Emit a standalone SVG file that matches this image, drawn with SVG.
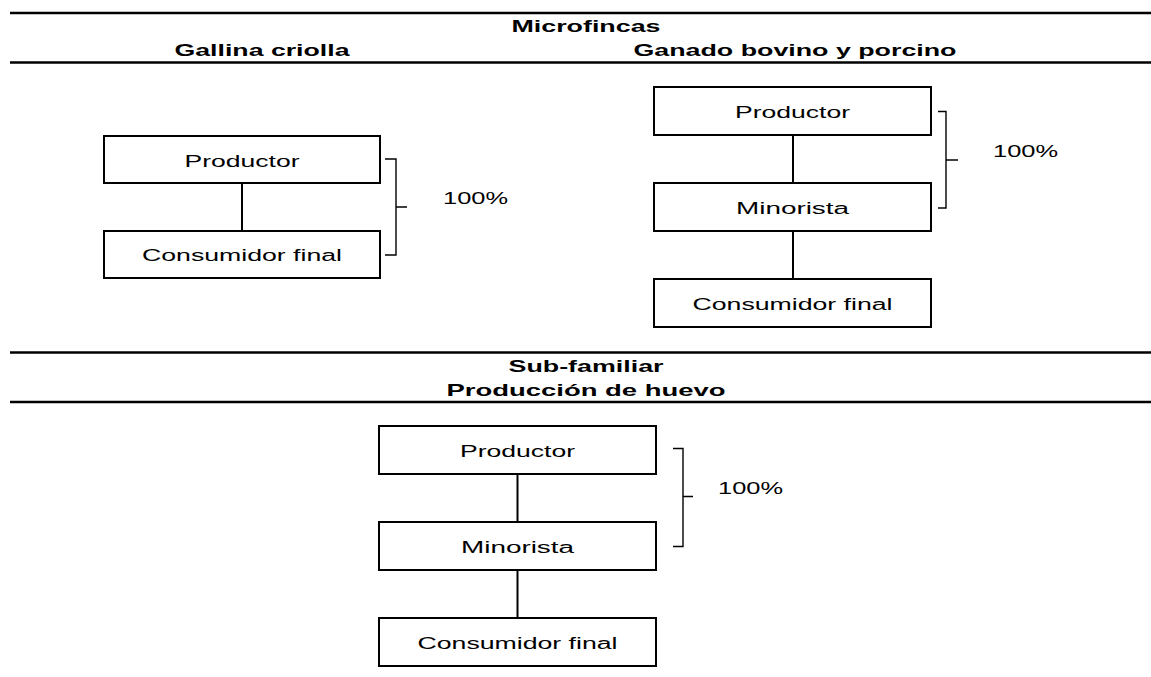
<svg xmlns="http://www.w3.org/2000/svg" width="1151" height="677" viewBox="0 0 1151 677">
<style>
.rule{stroke:#000;stroke-width:2.5;fill:none}
.box{fill:#fff;stroke:#000;stroke-width:2}
.conn{stroke:#000;stroke-width:2;fill:none}
.brace{stroke:#000;stroke-width:1.4;fill:none}
.hd{font-family:"Liberation Sans",Arial,sans-serif;font-weight:bold;font-size:17px;fill:#000;text-anchor:middle}
.lbl{font-family:"Liberation Sans",Arial,sans-serif;font-size:16px;fill:#000;text-anchor:middle}
.pct{font-family:"Liberation Sans",Arial,sans-serif;font-size:16px;fill:#000}
</style>
<rect width="1151" height="677" fill="#fff"/>
<g id="headers">
<line class="rule" x1="10" y1="13" x2="1151" y2="13"/>
<line class="rule" x1="10" y1="62.5" x2="1151" y2="62.5"/>
<text class="hd" x="586" y="32" textLength="149" lengthAdjust="spacingAndGlyphs">Microfincas</text>
<text class="hd" x="262" y="56" textLength="175" lengthAdjust="spacingAndGlyphs">Gallina criolla</text>
<text class="hd" x="795" y="56" textLength="323" lengthAdjust="spacingAndGlyphs">Ganado bovino y porcino</text>
<line class="rule" x1="10" y1="352.5" x2="1151" y2="352.5"/>
<line class="rule" x1="10" y1="402" x2="1151" y2="402"/>
<text class="hd" x="586" y="372" textLength="155" lengthAdjust="spacingAndGlyphs">Sub-familiar</text>
<text class="hd" x="586" y="396" textLength="279" lengthAdjust="spacingAndGlyphs">Producción de huevo</text>
</g>
<g id="connectors">
<line class="conn" x1="242" y1="183" x2="242" y2="231"/>
<line class="conn" x1="793" y1="135" x2="793" y2="183"/>
<line class="conn" x1="793" y1="231" x2="793" y2="279"/>
<line class="conn" x1="517.5" y1="474" x2="517.5" y2="522"/>
<line class="conn" x1="517.5" y1="570" x2="517.5" y2="618"/>
</g>
<g id="gallina-productor"><rect class="box" x="104" y="136" width="276" height="47"/><text class="lbl" x="242" y="166.5" textLength="115" lengthAdjust="spacingAndGlyphs">Productor</text></g>
<g id="gallina-consumidor"><rect class="box" x="104" y="231" width="276" height="47"/><text class="lbl" x="242" y="261" textLength="200" lengthAdjust="spacingAndGlyphs">Consumidor final</text></g>
<g id="gallina-brace"><path class="brace" d="M385,159 H396 V255 H385 M396,207 H407"/><text class="pct" x="443" y="204" textLength="65" lengthAdjust="spacingAndGlyphs">100%</text></g>
<g id="ganado-productor"><rect class="box" x="654" y="87" width="277" height="48"/><text class="lbl" x="792.5" y="118" textLength="115" lengthAdjust="spacingAndGlyphs">Productor</text></g>
<g id="ganado-minorista"><rect class="box" x="654" y="183" width="277" height="48"/><text class="lbl" x="792.5" y="214" textLength="113" lengthAdjust="spacingAndGlyphs">Minorista</text></g>
<g id="ganado-consumidor"><rect class="box" x="654" y="279" width="277" height="48"/><text class="lbl" x="792.5" y="310" textLength="200" lengthAdjust="spacingAndGlyphs">Consumidor final</text></g>
<g id="ganado-brace"><path class="brace" d="M938,111.5 H946 V208 H938 M946,160 H958"/><text class="pct" x="993" y="157" textLength="65" lengthAdjust="spacingAndGlyphs">100%</text></g>
<g id="huevo-productor"><rect class="box" x="379" y="426" width="277" height="48"/><text class="lbl" x="517.5" y="457" textLength="115" lengthAdjust="spacingAndGlyphs">Productor</text></g>
<g id="huevo-minorista"><rect class="box" x="379" y="522" width="277" height="48"/><text class="lbl" x="517.5" y="553" textLength="113" lengthAdjust="spacingAndGlyphs">Minorista</text></g>
<g id="huevo-consumidor"><rect class="box" x="379" y="618" width="277" height="48"/><text class="lbl" x="517.5" y="649" textLength="200" lengthAdjust="spacingAndGlyphs">Consumidor final</text></g>
<g id="huevo-brace"><path class="brace" d="M673,448.5 H683 V546.5 H673 M683,496.5 H693"/><text class="pct" x="718" y="494" textLength="65" lengthAdjust="spacingAndGlyphs">100%</text></g>
</svg>
